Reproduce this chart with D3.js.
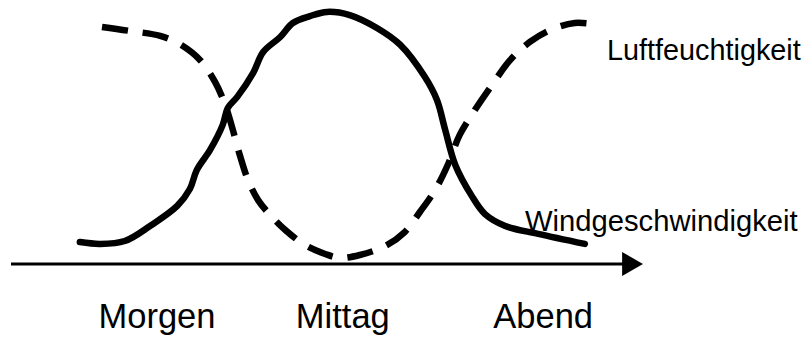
<!DOCTYPE html>
<html>
<head>
<meta charset="utf-8">
<script src="https://cdn.jsdelivr.net/npm/d3@7"></script>
<style>
  body { margin: 0; background: #fff; }
  svg text { font-family: "Liberation Sans", Arial, sans-serif; fill: #000; }
</style>
</head>
<body>
<svg id="chart" width="810" height="338"></svg>
<script>
// time of day on a 0..100 scale, values 0..100
const categories = ["Morgen", "Mittag", "Abend"];
const categoryPos = [23.1, 52.5, 84.2];

const humidityT = [14.4, 18.8, 23.6, 26.7, 29.9, 32.3, 33.9, 35.1, 36.2, 37.5, 39.1, 41.0, 43.4, 46.5, 49.7, 52.1, 55.2, 59.2, 62.3, 64.7, 67.1, 69.1, 71.0, 73.4, 75.8, 79.0, 82.1, 85.3, 89.2, 93.2];
const humidityV = [89.8, 88.3, 86.4, 83.3, 77.3, 68.9, 60.2, 50.8, 41.3, 31.8, 24.2, 18.6, 12.9, 7.2, 3.8, 2.3, 3.4, 6.8, 12.1, 19.7, 28.0, 37.5, 48.9, 58.3, 66.7, 77.3, 84.1, 88.6, 91.3, 90.5];

const windT = [10.9, 14.1, 18.0, 22.0, 26.3, 28.3, 29.4, 31.5, 33.5, 34.3, 35.8, 38.3, 39.9, 42.6, 44.6, 47.3, 50.0, 53.6, 57.9, 61.6, 65.5, 67.4, 68.7, 70.3, 72.9, 75.0, 78.2, 83.4, 90.8];
const windV = [8.3, 7.6, 8.7, 14.4, 22.0, 28.4, 35.6, 43.2, 52.7, 59.1, 63.3, 72.3, 80.3, 86.0, 91.3, 93.9, 95.5, 94.3, 89.4, 83.0, 70.8, 62.1, 50.8, 37.5, 25.8, 18.9, 14.4, 11.4, 7.6];

const seriesLabels = ["Luftfeuchtigkeit", "Windgeschwindigkeit"];

const svg = d3.select("#chart");

const x = d3.scaleLinear().domain([0, 100]).range([11, 643]);
const y = d3.scaleLinear().domain([0, 100]).range([264, 0]);

const line = d3.line()
    .x(d => x(d[0]))
    .y(d => y(d[1]))
    .curve(d3.curveCatmullRom.alpha(0.5));

const humidity = humidityT.map((t, i) => [t, humidityV[i]]);
const wind = windT.map((t, i) => [t, windV[i]]);

// time axis with arrow
svg.append("line")
    .attr("x1", x(0)).attr("x2", x(97))
    .attr("y1", y(0)).attr("y2", y(0))
    .attr("stroke", "#000")
    .attr("stroke-width", 3);

svg.append("path")
    .attr("d", `M${x(96.7)},${y(0) - 12} L${x(100)},${y(0)} L${x(96.7)},${y(0) + 12} Z`)
    .attr("fill", "#000");

svg.append("path")
    .datum(humidity)
    .attr("d", line)
    .attr("fill", "none")
    .attr("stroke", "#000")
    .attr("stroke-width", 6.5)
    .attr("stroke-dasharray", "26 15");

svg.append("path")
    .datum(wind)
    .attr("d", line)
    .attr("fill", "none")
    .attr("stroke", "#000")
    .attr("stroke-width", 6.5)
    .attr("stroke-linecap", "round")
    .attr("stroke-linejoin", "round");

svg.selectAll("text.cat")
    .data(categories)
    .enter()
    .append("text")
    .attr("class", "cat")
    .attr("x", (d, i) => x(categoryPos[i]))
    .attr("y", 328)
    .attr("text-anchor", "middle")
    .attr("font-size", 34.5)
    .text(d => d);

svg.append("text")
    .attr("x", 607).attr("y", 60)
    .attr("font-size", 28.8)
    .text(seriesLabels[0]);

svg.append("text")
    .attr("x", 525).attr("y", 231)
    .attr("font-size", 29.2)
    .text(seriesLabels[1]);
</script>
</body>
</html>
